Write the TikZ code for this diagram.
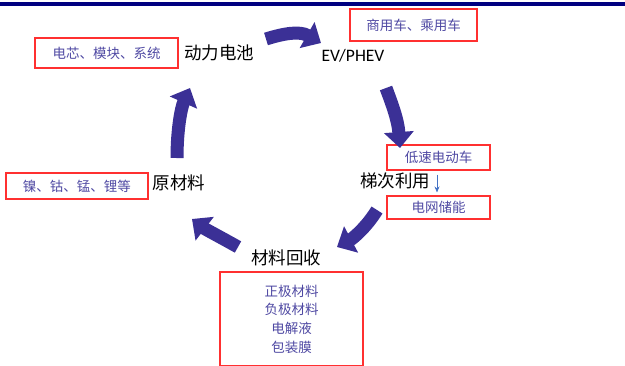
\documentclass[tikz,border=0pt]{standalone}
\usepackage{fontspec}
\setmainfont{Carlito}
\newfontfamily\cjk{Noto Sans CJK SC}
\usetikzlibrary{arrows.meta}
\definecolor{navybar}{HTML}{000080}
\definecolor{arrowc}{HTML}{3B3096}
\definecolor{labelc}{HTML}{4F49A3}
\definecolor{boxred}{HTML}{FF3030}
\definecolor{smallblue}{HTML}{4472C4}
\begin{document}
\begin{tikzpicture}[x=1pt,y=-1pt,
  redbox/.style={draw=boxred, line width=1.1pt, fill=white, font=\cjk\fontsize{13.5}{15}\selectfont, text=labelc, inner sep=0pt},
  title/.style={font=\cjk\fontsize{17.5}{19}\selectfont, inner sep=0pt},
  bigarrow/.style={draw=arrowc, line width=13pt, -{Triangle[width=29pt,length=16pt]}},
  smallarrow/.style={draw=smallblue, line width=0.8pt, -{Stealth[width=5pt,length=6pt]}}]
\useasboundingbox (0,0) rectangle (625,365);
\fill[navybar] (0,2) rectangle (625,6);

% boxes
\node[redbox, minimum width=143pt, minimum height=30pt] (cells) at (106.5,53) {电芯、模块、系统};
\node[redbox, minimum width=127pt, minimum height=32pt] (cars) at (413.5,25) {商用车、乘用车};
\node[redbox, minimum width=103pt, minimum height=25pt] (lowspeed) at (438.5,157.5) {低速电动车};
\node[redbox, minimum width=103pt, minimum height=23pt] (grid) at (438.5,207.5) {电网储能};
\node[redbox, minimum width=142pt, minimum height=26pt] (metals) at (77,186) {镍、钴、锰、锂等};
\node[redbox, minimum width=143pt, minimum height=94pt, align=center, font=\cjk\fontsize{13.5}{18.7}\selectfont] (parts) at (291.5,319) {正极材料\\负极材料\\电解液\\包装膜};

% titles
\node[title] (battery) at (219,53) {动力电池};
\node[font=\fontsize{17.5}{19}\selectfont, inner sep=0pt] (ev) at (353,56) {EV/PHEV};
\node[title] (reuse) at (395,181) {梯次利用};
\node[title] (raw) at (179,183) {原材料};
\node[title] (recycle) at (286,258) {材料回收};

% big arrow end points
\coordinate (a1s) at (266,39);
\coordinate (a1e) at (321,43);
\coordinate (a2s) at (386,88);
\coordinate (a2e) at (400,148);
\coordinate (a3s) at (377,210);
\coordinate (a3e) at (337,247);
\coordinate (a4s) at (238,247);
\coordinate (a4e) at (192,219);
\coordinate (a5s) at (177,158);
\coordinate (a5e) at (190,88);

\draw[bigarrow] (a1s) .. controls (285,33) and (300,31) .. (a1e);
\draw[bigarrow] (a2s) .. controls (392,104) and (398,120) .. (a2e);
\draw[bigarrow] (a3s) .. controls (366,228) and (352,239) .. (a3e);
\draw[bigarrow] (a4s) .. controls (222,238) and (205,229) .. (a4e);
\draw[bigarrow] (a5s) .. controls (177,130) and (181,108) .. (a5e);

\draw[smallarrow, shorten <=4pt, shorten >=3pt] ([xshift=-1.5pt]lowspeed.south) -- ([xshift=-1.5pt]grid.north);
\end{tikzpicture}
\end{document}
